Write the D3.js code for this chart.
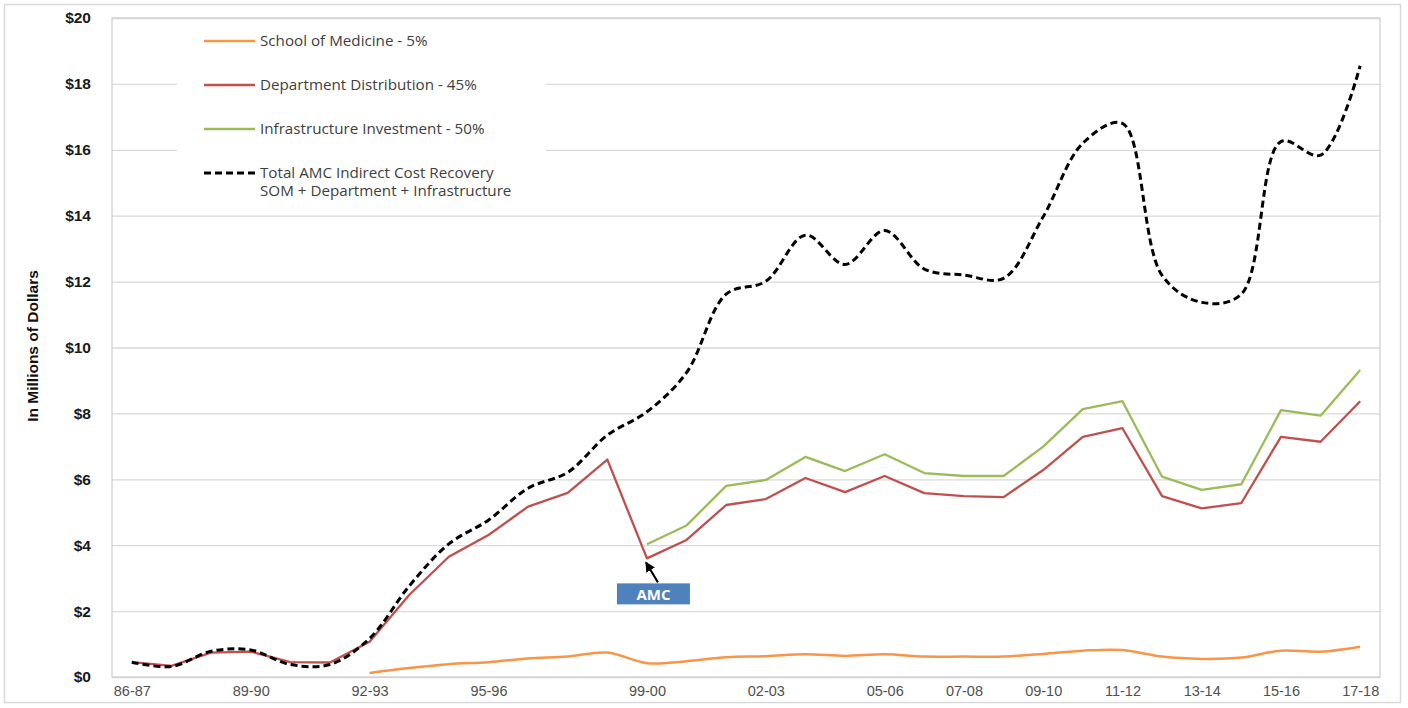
<!DOCTYPE html>
<html><head><meta charset="utf-8">
<script src="https://cdn.jsdelivr.net/npm/d3@7"></script>
<style>html,body{margin:0;padding:0;background:#fff;}svg{display:block;}</style>
</head><body>
<svg id="chart" width="1408" height="708"></svg>
<script>
const categories = ["86-87","87-88","88-89","89-90","90-91","91-92","92-93","93-94","94-95","95-96","96-97","97-98","98-99","99-00","00-01","01-02","02-03","03-04","04-05","05-06","06-07","07-08","08-09","09-10","10-11","11-12","12-13","13-14","14-15","15-16","16-17","17-18"];
const tickLabels = ["86-87","89-90","92-93","95-96","99-00","02-03","05-06","07-08","09-10","11-12","13-14","15-16","17-18"];
const yTicks = [0,2,4,6,8,10,12,14,16,18,20];
const som = [null,null,null,null,null,null,0.12,0.27,0.39,0.45,0.56,0.62,0.74,0.42,0.48,0.60,0.63,0.69,0.64,0.69,0.62,0.62,0.62,0.70,0.80,0.82,0.62,0.55,0.59,0.80,0.77,0.92];
const dept = [0.45,0.34,0.74,0.77,0.45,0.44,1.07,2.49,3.65,4.31,5.17,5.59,6.60,3.60,4.16,5.22,5.40,6.04,5.61,6.10,5.58,5.49,5.46,6.28,7.29,7.55,5.49,5.12,5.28,7.29,7.14,8.37];
const infra = [null,null,null,null,null,null,null,null,null,null,null,null,null,4.03,4.60,5.80,5.98,6.68,6.25,6.76,6.19,6.10,6.10,6.99,8.13,8.37,6.08,5.68,5.85,8.10,7.93,9.32];
const total = [0.45,0.32,0.78,0.82,0.38,0.38,1.17,2.76,4.04,4.76,5.73,6.21,7.34,8.05,9.24,11.62,12.01,13.41,12.52,13.55,12.38,12.20,12.10,13.97,16.20,16.80,12.19,11.37,11.62,16.25,15.84,18.55];
const legendLabels = ["School of Medicine - 5%","Department Distribution - 45%","Infrastructure Investment - 50%",["Total AMC Indirect Cost Recovery","SOM + Department + Infrastructure"]];
const annotationText = "AMC";

const svg = d3.select("#chart");
const L = 112, R = 1380, T = 18, B = 677;
const x = d3.scalePoint().domain(categories).range([L, R]).padding(0.5);
const y = d3.scaleLinear().domain([0, 20]).range([B, T]);

// outer border
svg.append("rect").attr("x",4.5).attr("y",4.5).attr("width",1396).attr("height",698)
  .attr("fill","#fff").attr("stroke","#d9d9d9").attr("stroke-width",1.5);

// gridlines
svg.append("g").selectAll("line").data(yTicks).join("line")
  .attr("x1",L).attr("x2",R).attr("y1",d=>y(d)+0.5).attr("y2",d=>y(d)+0.5)
  .attr("stroke","#d9d9d9").attr("stroke-width",1.3);
// plot frame
svg.append("rect").attr("x",L).attr("y",T).attr("width",R-L).attr("height",B-T)
  .attr("fill","none").attr("stroke","#d0d0d0").attr("stroke-width",1.3);

// y axis
const yAxis = svg.append("g").attr("transform",`translate(${L},0)`)
  .call(d3.axisLeft(y).tickValues(yTicks).tickFormat(d=>"$"+d).tickSize(0).tickPadding(21));
yAxis.select(".domain").remove();
yAxis.selectAll("text").attr("font-family","Liberation Sans, Arial, sans-serif")
  .attr("font-size","15.5px").attr("fill","#1a1a1a").attr("font-weight","bold");

// x axis
const xAxis = svg.append("g").attr("transform",`translate(0,${B})`)
  .call(d3.axisBottom(x).tickValues(tickLabels).tickSize(0).tickPadding(9));
xAxis.select(".domain").remove();
xAxis.selectAll("text").attr("font-family","Liberation Sans Narrow, Liberation Sans, Arial, sans-serif")
  .attr("font-size","14.5px").attr("fill","#505050");

// y title
svg.append("text").attr("transform","translate(38,346) rotate(-90)")
  .attr("text-anchor","middle").attr("font-family","Liberation Sans Narrow, Liberation Sans, Arial, sans-serif")
  .attr("font-weight","bold").attr("font-size","15.5px").attr("fill","#111").text("In Millions of Dollars");

// legend background
svg.append("rect").attr("x",177).attr("y",T+2).attr("width",369).attr("height",188).attr("fill","#fff");

const lineStraight = d3.line().defined(d=>d.v!=null).x(d=>x(d.c)).y(d=>y(d.v));
const lineSmooth = d3.line().defined(d=>d.v!=null).x(d=>x(d.c)).y(d=>y(d.v)).curve(d3.curveCardinal.tension(0));
const lineSmoothC = d3.line().defined(d=>d.v!=null).x(d=>x(d.c)).y(d=>y(d.v)).curve(d3.curveCatmullRom.alpha(0.5));
const pts = arr => arr.map((v,i)=>({c:categories[i], v}));

svg.append("path").attr("d",lineSmooth(pts(som))).attr("fill","none").attr("stroke","#F79646").attr("stroke-width",2.5);
svg.append("path").attr("d",lineStraight(pts(infra))).attr("fill","none").attr("stroke","#9BBB59").attr("stroke-width",2.3).attr("stroke-linejoin","round");
svg.append("path").attr("d",lineStraight(pts(dept))).attr("fill","none").attr("stroke","#C0504D").attr("stroke-width",2.3).attr("stroke-linejoin","round");
svg.append("path").attr("d",lineSmoothC(pts(total))).attr("fill","none").attr("stroke","#000").attr("stroke-width",3).attr("stroke-dasharray","7,4");

// legend
const legendColors = ["#F79646","#C0504D","#9BBB59","#000"];
const legendY = [41,85,129,173];
const lg = svg.append("g");
legendLabels.forEach((lab,i)=>{
  const ly = legendY[i];
  lg.append("line").attr("x1",204).attr("x2",255).attr("y1",ly).attr("y2",ly)
    .attr("stroke",legendColors[i]).attr("stroke-width",i===3?3:2.3)
    .attr("stroke-dasharray",i===3?"7,4":null);
  const t = lg.append("text").attr("x",260).attr("y",ly+5)
    .attr("font-family","Open Sans, Lato, sans-serif").attr("font-size","15.2px").attr("fill","#404040");
  if (Array.isArray(lab)) {
    lab.forEach((s,j)=>t.append("tspan").attr("x",260).attr("dy",j===0?0:18).text(s));
  } else t.text(lab);
});

// AMC annotation
const ax = x("99-00"), ayv = y(dept[13]);
svg.append("defs").append("marker").attr("id","ah").attr("viewBox","0 0 10 10")
  .attr("refX",9).attr("refY",5).attr("markerWidth",5).attr("markerHeight",5).attr("orient","auto")
  .append("path").attr("d","M0,0 L10,5 L0,10 z").attr("fill","#000");
svg.append("line").attr("x1",ax+11).attr("y1",ayv+24).attr("x2",ax-1).attr("y2",ayv+4)
  .attr("stroke","#000").attr("stroke-width",2).attr("marker-end","url(#ah)");
svg.append("rect").attr("x",ax-30).attr("y",ayv+25).attr("width",73).attr("height",21).attr("fill","#4F81BD");
svg.append("text").attr("x",ax+6.5).attr("y",ayv+41.5).attr("text-anchor","middle")
  .attr("font-family","Open Sans, sans-serif").attr("font-weight","bold").attr("font-size","15px")
  .attr("fill","#fff").text(annotationText);
</script>
</body></html>
